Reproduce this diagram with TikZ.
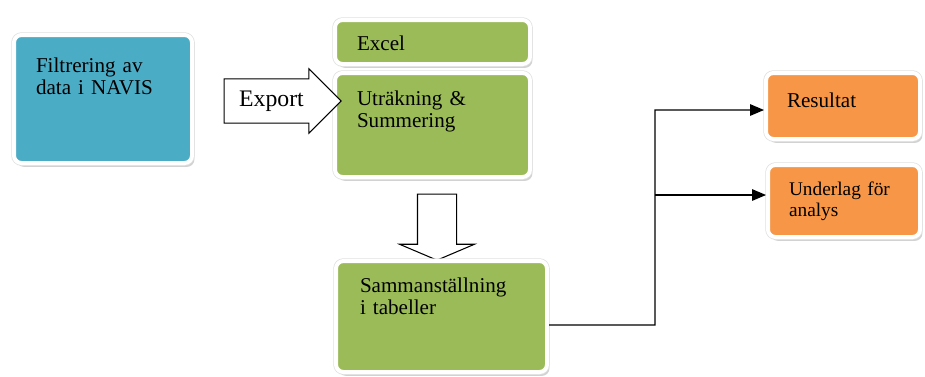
\documentclass[tikz,border=0pt]{standalone}
\usepackage{fontspec}
\setmainfont{Liberation Serif}
\usetikzlibrary{shapes.arrows, shadows, arrows}
\definecolor{boxblue}{HTML}{4BACC6}
\definecolor{boxgreen}{HTML}{9BBB59}
\definecolor{boxorange}{HTML}{F79646}
\tikzstyle{box} = [rectangle, rounded corners=0.15cm, draw=white, line width=0.08cm, inner ysep=0pt, align=left, font=\rmfamily\fontsize{12pt}{13pt}\selectfont, drop shadow={shadow xshift=1.4pt, shadow yshift=-2.2pt, fill=black!35}, preaction={draw=black!12, line width=0.11cm}]
\tikzstyle{blockarrow} = [single arrow, draw=black, fill=white, line width=0.6pt]
\tikzstyle{arrow} = [line width=0.8pt,->,>=triangle 45]

\begin{document}
\begin{tikzpicture}
      \useasboundingbox (0,0) rectangle (18.5,-7.52);
      \node (filt) [box, fill=boxblue, text width=2.68cm, inner xsep=0.44cm, text height=0.74cm, text depth=1.82cm] at (2.06,-1.98) {Filtrering av\\data i NAVIS};
      \node (excel) [box, fill=boxgreen, text width=3.02cm, inner xsep=0.44cm, text height=0.6cm, text depth=0.28cm] at (8.65,-0.84) {Excel};
      \node (utr) [box, fill=boxgreen, node distance=1.66cm, below of=excel, text width=3.02cm, inner xsep=0.44cm, text height=0.64cm, text depth=1.44cm] {Uträkning \&\\Summering};
      \node (exp) [blockarrow, node distance=3.37cm, right of=filt, yshift=-0.04cm, minimum height=2.34cm, text height=9pt, text depth=3pt, inner ysep=0.22cm, single arrow head extend=0.2cm, font=\rmfamily\fontsize{13.5pt}{14pt}\selectfont] {Export};
      \node (down) [blockarrow, node distance=1.96cm, below of=utr, xshift=0.09cm, shape border rotate=270, minimum height=1.32cm, inner sep=0.38cm, single arrow head extend=0.36cm, single arrow tip angle=134] {};
      \node (samm) [box, fill=boxgreen, node distance=1.87cm, below of=down, xshift=0.09cm, text width=3.26cm, inner xsep=0.48cm, text height=0.62cm, text depth=1.6cm] {Sammanställning\\i tabeller};
      \node (res) [box, fill=boxorange, text width=2.24cm, inner xsep=0.42cm, text height=0.68cm, text depth=0.64cm] at (16.86,-2.12) {Resultat};
      \node (und) [box, fill=boxorange, node distance=1.9cm, below of=res, xshift=0.02cm, text width=2.2cm, inner xsep=0.42cm, text height=0.6cm, text depth=0.84cm, font=\rmfamily\fontsize{11pt}{12.5pt}\selectfont] {Underlag för\\analys};
      \coordinate (split) at (13.1,-6.5);
      \draw [arrow] ([yshift=-0.17cm]samm.east) -- (split) |- ([yshift=-0.08cm]res.west);
      \draw [arrow] ([yshift=0.12cm]und.west -| split) -- ([yshift=0.12cm]und.west);
    \end{tikzpicture}
\end{document}
